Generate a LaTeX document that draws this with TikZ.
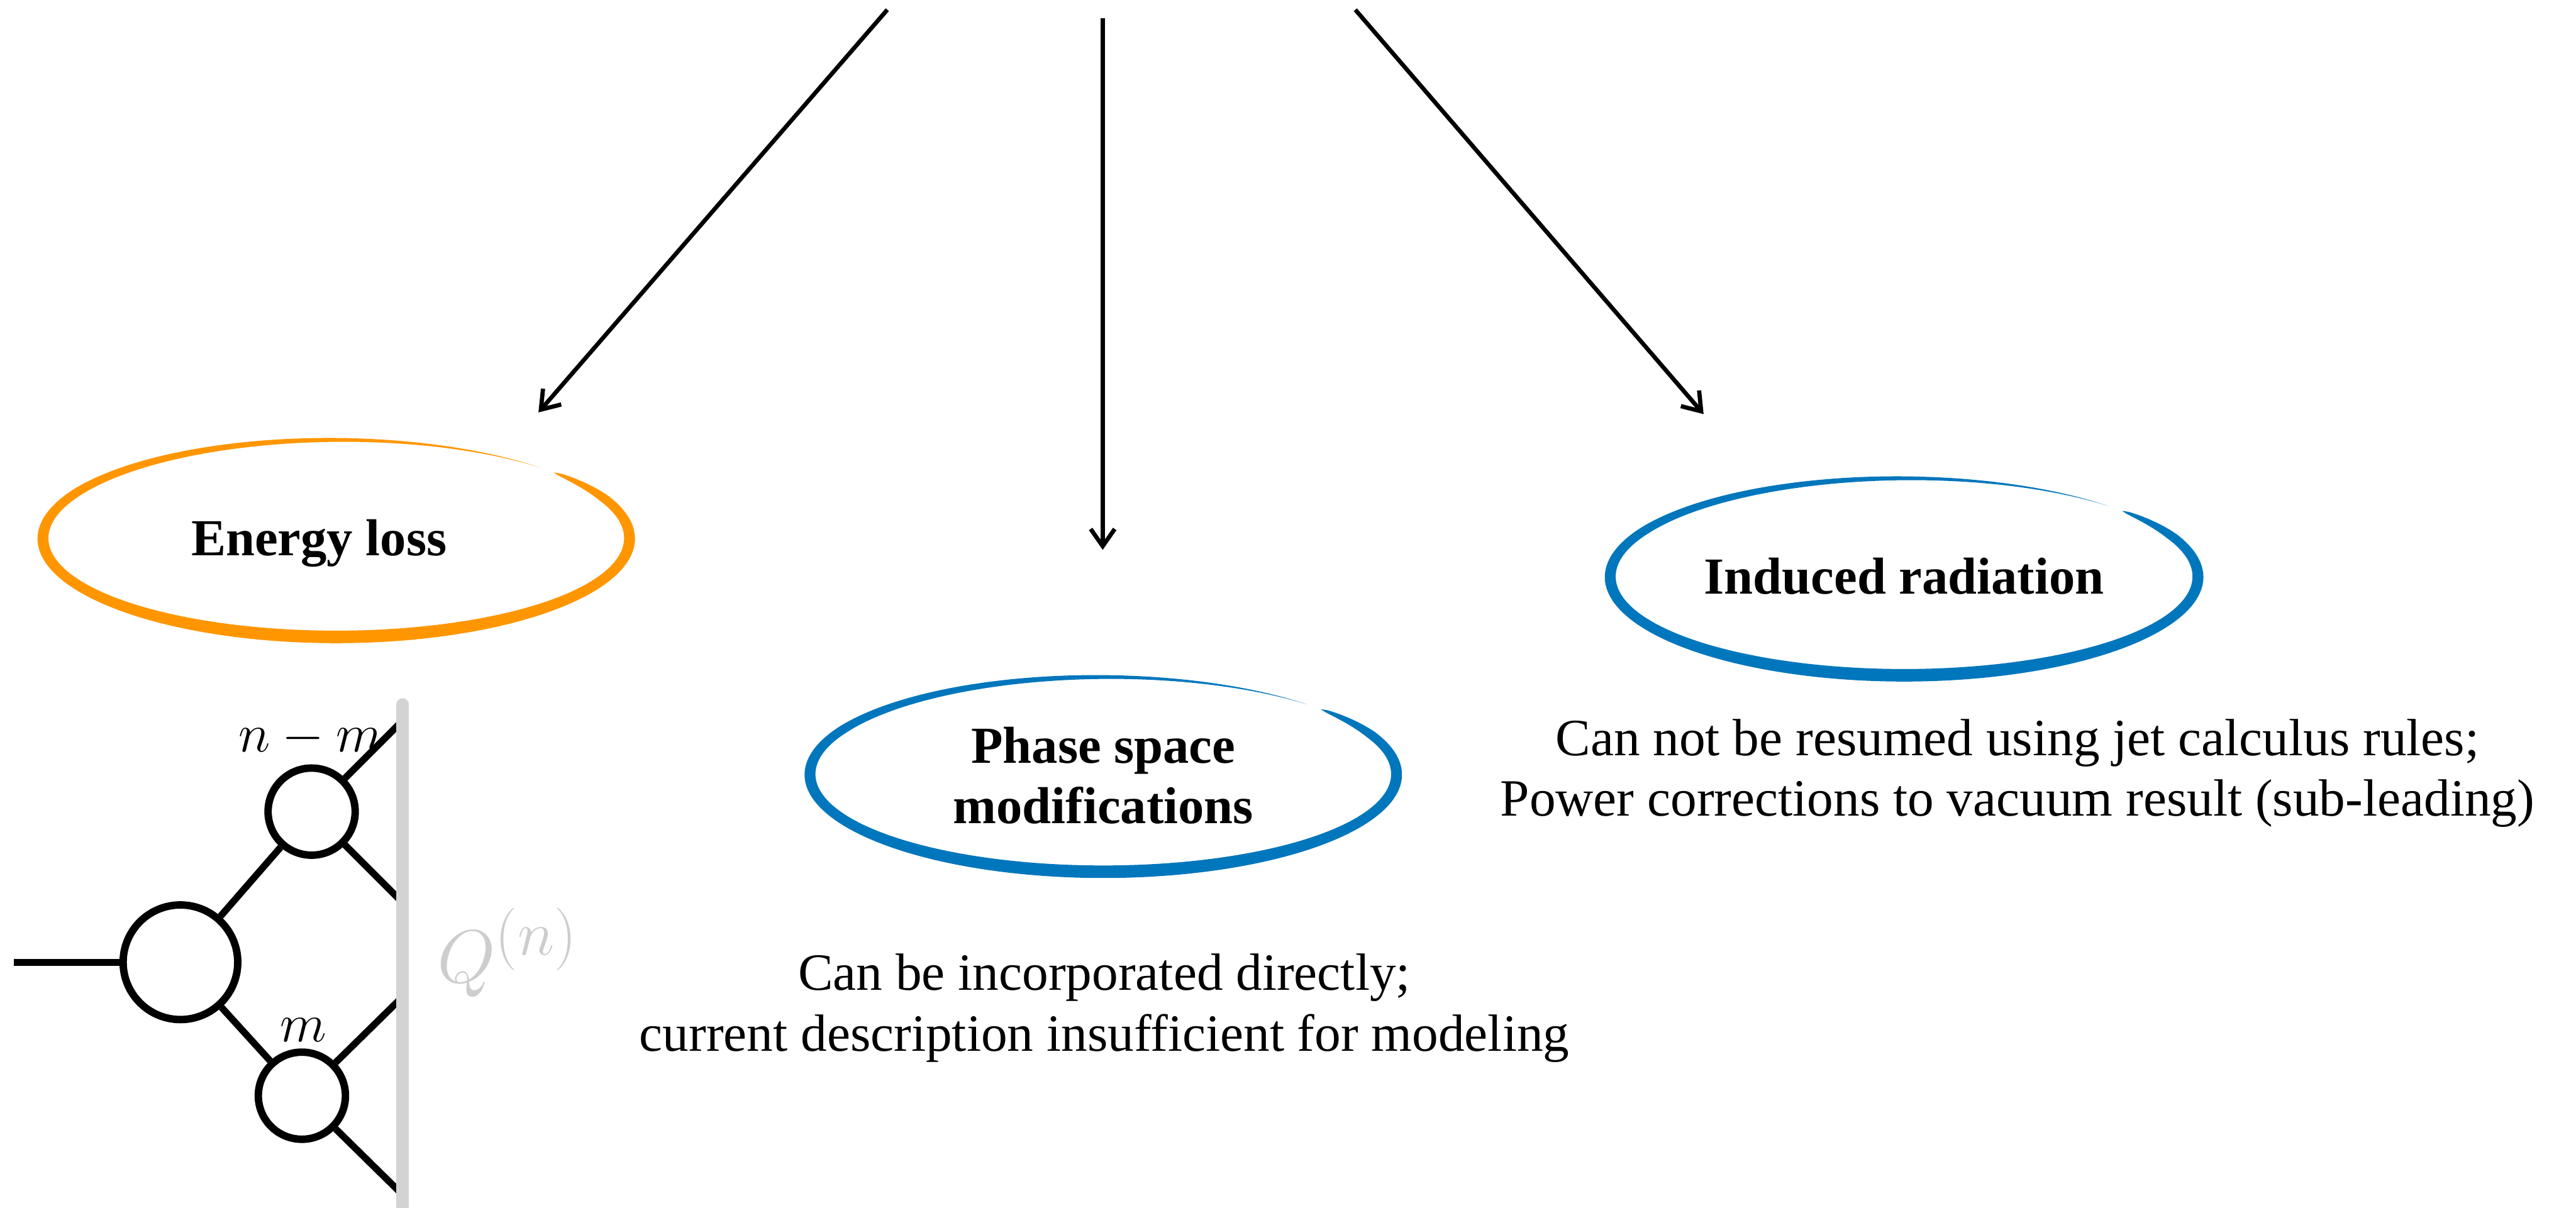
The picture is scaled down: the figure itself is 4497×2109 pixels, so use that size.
\documentclass[tikz,border=0pt]{standalone}
\usepackage[no-math]{fontspec}
\setmainfont{Liberation Serif}
\usetikzlibrary{arrows.meta}

\definecolor{lossorange}{RGB}{255,150,0}
\definecolor{modblue}{RGB}{0,118,188}
\definecolor{bargray}{RGB}{211,211,211}
\definecolor{qgray}{RGB}{205,205,205}

\tikzstyle{title} = [font=\fontsize{25.8}{30}\selectfont\bfseries, align=center, inner sep=0]
\tikzstyle{note} = [font=\fontsize{26}{30}\selectfont, align=center, inner sep=0]
\tikzstyle{arrow} = [line width=2.1pt, -{Straight Barb[length=0.3cm, width=0.42cm]}]
\tikzstyle{blob} = [circle, draw, line width=3.7pt, inner sep=0]
\tikzstyle{leg} = [line width=3.4pt]
\tikzstyle{mlabel} = [font=\fontsize{24.88}{28}\selectfont]

% brush-stroke ring: centre x, centre y, radius x, radius y, colour
\newcommand{\brushring}[5]{%
  \fill[#5] plot[domain=0:1, samples=241]
      ({#1+(#3+9.5*brushw(\x)*(1-0.15*sin(42-356*\x)))*cos(42-356*\x)},
       {#2-(#4+9.5*brushw(\x)*(1-0.15*sin(42-356*\x)))*sin(42-356*\x)})
    -- plot[domain=1:0, samples=241]
      ({#1+(#3-9.5*brushw(\x)*(1-0.15*sin(42-356*\x)))*cos(42-356*\x)},
       {#2-(#4-9.5*brushw(\x)*(1-0.15*sin(42-356*\x)))*sin(42-356*\x)})
    -- cycle;
}

\begin{document}
\begin{tikzpicture}[x=0.01cm, y=-0.01cm,
    declare function={brushw(\u)=sqrt(min(1,\u/0.05))*min(1,(1-\u)/0.3);}]
    \useasboundingbox (0,0) rectangle (4497,2109);

    % rings
    \brushring{587}{940}{512}{172}{lossorange}
    \brushring{1926}{1352}{512}{170}{modblue}
    \brushring{3324}{1007}{513}{172}{modblue}

    \node (eloss) [title, anchor=base] at (557,970) {Energy loss};
    \node (phase) [title] at (1926,1354) {Phase space\\modifications};
    \node (induced) [title, anchor=base] at (3324,1037) {Induced radiation};

    \node (phasenote) [note] at (1928,1760) {Can be incorporated directly;\\current description insufficient for modeling};
    \node (inducednote) [note] at (3522,1350) {Can not be resumed using jet calculus rules;\\Power corrections to vacuum result (sub-leading)};

    % branches from above
    \coordinate (fromL) at (1549,17);
    \coordinate (fromM) at (1925,32);
    \coordinate (fromR) at (2366,17);
    \coordinate (toL) at (940,720);
    \coordinate (toM) at (1925,960);
    \coordinate (toR) at (2974,723);
    \draw [arrow] (fromL) -- (toL);
    \draw [arrow] (fromM) -- (toM);
    \draw [arrow] (fromR) -- (toR);

    % splitting tree
    \node (root) [blob, minimum size=2cm] at (315,1680) {};
    \node (up) [blob, minimum size=1.52cm] at (544,1417) {};
    \node (dn) [blob, minimum size=1.52cm] at (527,1913) {};
    \coordinate (in) at (24,1680);
    \coordinate (q1) at (703,1258);
    \coordinate (q2) at (703,1576);
    \coordinate (q3) at (703,1740);
    \coordinate (q4) at (703,2086);
    \draw [leg] (in) -- (root);
    \draw [leg] (root) -- (up);
    \draw [leg] (root) -- (dn);
    \draw [leg] (up) -- (q1);
    \draw [leg] (up) -- (q2);
    \draw [leg] (dn) -- (q3);
    \draw [leg] (dn) -- (q4);

    \coordinate (bartop) at (703,1230);
    \coordinate (barbot) at (703,2140);
    \draw [bargray, line width=0.22cm, line cap=round] (bartop) -- (barbot);

    \node (nm) [mlabel] at (542,1289) {\scalebox{1.08}{$n-m$}};
    \node (m) [mlabel] at (530,1798) {\scalebox{1.08}{$m$}};
    \node (qn) [mlabel, text=qgray] at (886,1663) {\scalebox{1.5}{$Q^{(n)}$}};
\end{tikzpicture}
\end{document}
